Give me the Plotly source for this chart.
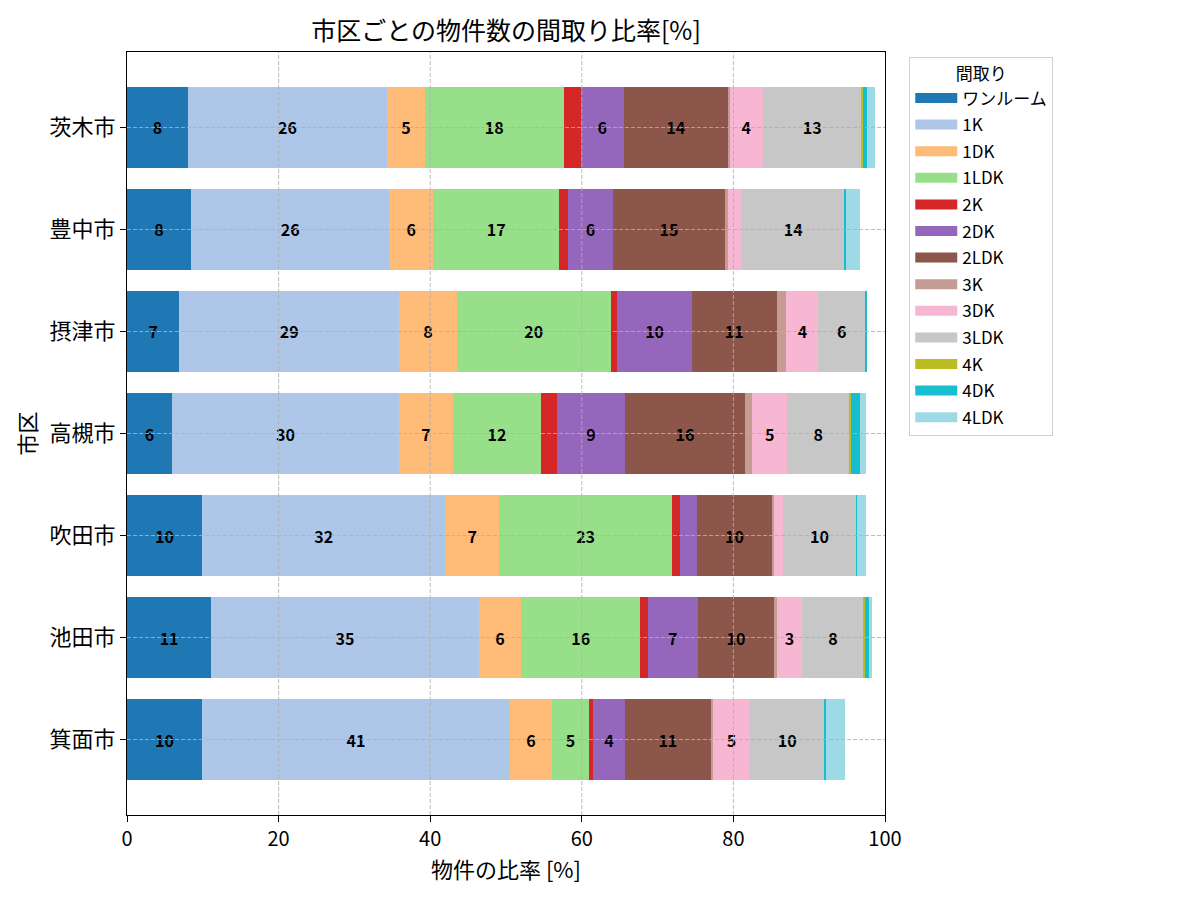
import plotly.graph_objects as go

cities = ["箕面市", "池田市", "吹田市", "高槻市", "摂津市", "豊中市", "茨木市"]
layouts = ["ワンルーム", "1K", "1DK", "1LDK", "2K", "2DK", "2LDK", "3K", "3DK", "3LDK", "4K", "4DK", "4LDK"]

v_1R   = [9.9, 11.1, 9.9, 5.9, 6.9, 8.45, 8.05]
v_1K   = [40.6, 35.3, 32.1, 30.0, 29.0, 26.15, 26.25]
v_1DK  = [5.6, 5.6, 7.1, 7.1, 7.6, 5.8, 5.0]
v_1LDK = [4.8, 15.7, 22.8, 11.6, 20.3, 16.6, 18.3]
v_2K   = [0.6, 1.0, 1.1, 2.1, 0.9, 1.2, 2.25]
v_2DK  = [4.2, 6.6, 2.2, 9.0, 9.8, 5.9, 5.7]
v_2LDK = [11.3, 10.1, 9.9, 15.8, 11.2, 14.8, 13.7]
v_3K   = [0.3, 0.3, 0.3, 1.0, 1.3, 0.4, 0.3]
v_3DK  = [4.9, 3.4, 1.1, 4.6, 4.2, 1.8, 4.3]
v_3LDK = [9.8, 8.1, 9.7, 8.2, 6.2, 13.6, 13.1]
v_4K   = [0.0, 0.13, 0.0, 0.2, 0.0, 0.0, 0.15]
v_4DK  = [0.25, 0.5, 0.15, 1.2, 0.2, 0.15, 0.5]
v_4LDK = [2.5, 0.5, 1.1, 0.8, 0.0, 1.85, 1.1]

x_ticks = [0, 20, 40, 60, 80, 100]

series = [v_1R, v_1K, v_1DK, v_1LDK, v_2K, v_2DK, v_2LDK, v_3K, v_3DK, v_3LDK, v_4K, v_4DK, v_4LDK]
colors = ["#1f77b4", "#aec7e8", "#ffbb78", "#98df8a", "#d62728", "#9467bd", "#8c564b",
          "#c49c94", "#f7b6d2", "#c7c7c7", "#bcbd22", "#17becf", "#9edae5"]

FONT = "Noto Sans CJK JP"
GRID = "rgba(176,176,176,0.85)"

fig = go.Figure()
for name, vals, col in zip(layouts, series, colors):
    txt = [f"{round(v):d}" if v >= 3 else "" for v in vals]
    fig.add_trace(go.Bar(
        y=cities, x=vals, name=name, orientation="h", legendgroup=name, showlegend=False,
        marker=dict(color=col, line=dict(width=0)),
        text=txt, textposition="inside", insidetextanchor="middle",
        textangle=0, constraintext="none",
        textfont=dict(family=FONT, size=16, color="black", weight="bold"),
        hoverinfo="skip",
    ))
# legend proxies: wide rectangular swatches like the reference
for name, col in zip(layouts, colors):
    fig.add_trace(go.Scatter(
        x=[None], y=[None], mode="lines", name=name, legendgroup=name,
        line=dict(color=col, width=12), hoverinfo="skip",
    ))

# grid lines drawn above the bars (as in the reference)
for xv in x_ticks[1:-1]:
    fig.add_shape(type="line", xref="x", yref="paper", x0=xv, x1=xv, y0=0, y1=1,
                  line=dict(color=GRID, width=1, dash="4px,2px"), layer="above")
for c in cities:
    fig.add_shape(type="line", xref="paper", yref="y", x0=0, x1=1, y0=c, y1=c,
                  line=dict(color=GRID, width=1, dash="4px,2px"), layer="above")

fig.update_layout(
    barmode="stack", bargap=0.2,
    width=1200, height=900,
    paper_bgcolor="white", plot_bgcolor="white",
    margin=dict(l=127, r=315, t=52, b=85),
    font=dict(family=FONT, color="black"),
    title=dict(text="市区ごとの物件数の間取り比率[%]", x=(127 + 885) / 2 / 1200, xanchor="center",
               y=1 - 31 / 900, yanchor="middle", font=dict(size=25, family=FONT)),
    legend=dict(
        title=dict(text="間取り", side="top center", font=dict(size=17)),
        x=1.032, xanchor="left", y=0.993, yanchor="top",
        bordercolor="#d0d0d0", borderwidth=1, bgcolor="white",
        font=dict(size=17, family=FONT), traceorder="grouped",
        tracegroupgap=1.5, itemwidth=42,
    ),
)
fig.update_xaxes(
    range=[0, 100], tickvals=x_ticks,
    title=dict(text="物件の比率 [%]", font=dict(size=22), standoff=8),
    tickfont=dict(size=20), ticks="outside", ticklen=6, tickcolor="black",
    showline=True, linecolor="black", linewidth=1, mirror=True,
    showgrid=False, zeroline=False,
)
fig.update_yaxes(
    range=[-0.74, 6.74],
    title=dict(text="市区", font=dict(size=22), standoff=6),
    tickfont=dict(size=22), ticks="outside", ticklen=6, tickcolor="black",
    showline=True, linecolor="black", linewidth=1, mirror=True,
    showgrid=False,
)

fig.write_html("out.html")
